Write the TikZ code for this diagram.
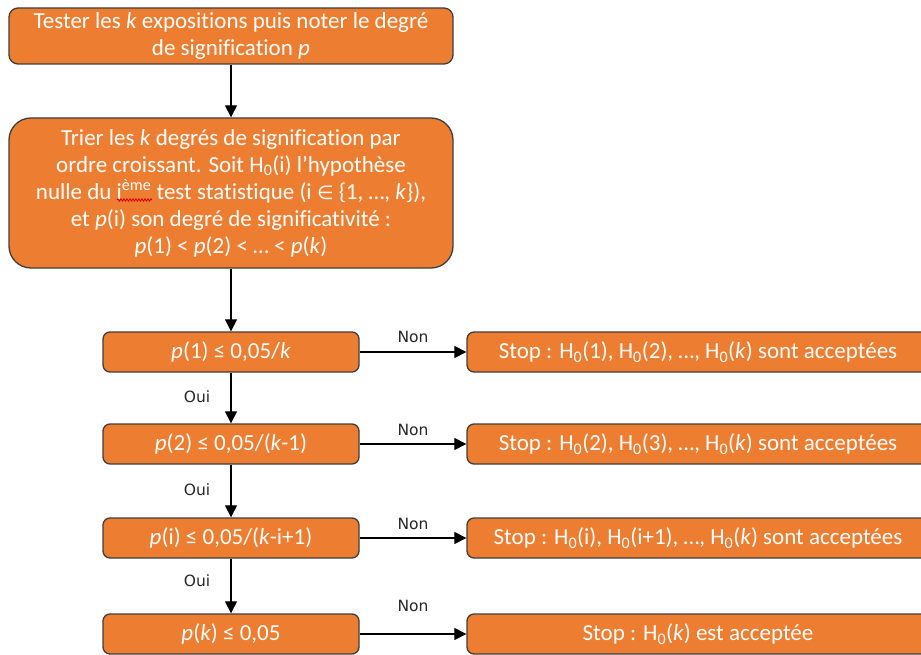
\documentclass[tikz,border=0pt]{standalone}
\usepackage{fontspec}
\setmainfont{Carlito}[Ligatures=NoCommon]
\newfontfamily\symfont{DejaVu Sans}
\newfontfamily\lblfont{DejaVu Sans}
\usetikzlibrary{arrows.meta,decorations.pathmorphing}
\definecolor{orng}{HTML}{ED7D31}
\definecolor{bord}{HTML}{3F3F3F}
\tikzset{
  box/.style={draw=bord, line width=1.3pt, fill=orng, text=white, align=center,
    inner sep=0pt, font=\fontsize{23}{27}\selectfont},
  arr/.style={line width=1.1pt, -{Triangle[length=12pt,width=12pt]}},
  lbl/.style={inner sep=0pt, text=black!85, font=\lblfont\fontsize{15.5}{17}\selectfont},
}
\begin{document}
\begin{tikzpicture}[x=1pt,y=-1pt]
\useasboundingbox (0,0) rectangle (921,655);
\clip (0,0) rectangle (921,655);
\node[box, rounded corners=9pt, minimum width=444pt, minimum height=56pt] (b1) at (231,36)
  {Tester les \textit{k} expositions puis noter le degré\\de signification \textit{p}};
\node[box, rounded corners=22pt, minimum width=444pt, minimum height=150pt] (b2) at (231,193)
  {Trier les \textit{k} degrés de signification par\\
   ordre croissant. Soit H\textsubscript{0}(i) l’hypothèse\\
   nulle du i\textsuperscript{ème} test statistique (i {\symfont\fontsize{19}{22}\selectfont ∈} \{1, …, \textit{k}\}),\\
   et \textit{p}(i) son degré de significativité :\\
   \textit{p}(1) < \textit{p}(2) < … < \textit{p}(\textit{k})};
\foreach \n/\y/\t in {
  d1/352/{\textit{p}(1) ≤ 0,05/\textit{k}},
  d2/444/{\textit{p}(2) ≤ 0,05/(\textit{k}-1)},
  d3/538/{\textit{p}(i) ≤ 0,05/(\textit{k}-i+1)},
  d4/634/{\textit{p}(\textit{k}) ≤ 0,05}}
  {\node[box, rounded corners=7pt, minimum width=256pt, minimum height=40pt] (\n) at (231,\y) {\t};}
\foreach \n/\y/\t in {
  r1/352/{Stop : H\textsubscript{0}(1), H\textsubscript{0}(2), …, H\textsubscript{0}(\textit{k}) sont acceptées},
  r2/444/{Stop : H\textsubscript{0}(2), H\textsubscript{0}(3), …, H\textsubscript{0}(\textit{k}) sont acceptées},
  r3/538/{Stop : H\textsubscript{0}(i), H\textsubscript{0}(i+1), …, H\textsubscript{0}(\textit{k}) sont acceptées},
  r4/634/{Stop : H\textsubscript{0}(\textit{k}) est acceptée}}
  {\node[box, rounded corners=7pt, minimum width=462pt, minimum height=40pt] (\n) at (698,\y) {\t};}
\draw[arr] (b1) -- (b2);
\draw[arr] (b2) -- (d1);
\draw[arr] (d1) -- (d2);
\draw[arr] (d2) -- (d3);
\draw[arr] (d3) -- (d4);
\draw[arr] (d1) -- (r1);
\draw[arr] (d2) -- (r2);
\draw[arr] (d3) -- (r3);
\draw[arr] (d4) -- (r4);
\node[lbl] (n1) at (413,337) {Non};
\node[lbl] (n2) at (413,430) {Non};
\node[lbl] (n3) at (413,524) {Non};
\node[lbl] (n4) at (413,606) {Non};
\node[lbl] (o1) at (197,397) {Oui};
\node[lbl] (o2) at (197,490) {Oui};
\node[lbl] (o3) at (197,581) {Oui};
\coordinate (sq1) at (117,200);
\coordinate (sq2) at (152,200);
\draw[red!85!black, line width=0.8pt, decorate, decoration={snake, amplitude=1.2pt, segment length=3pt}] (sq1) -- (sq2);
\end{tikzpicture}
\end{document}
